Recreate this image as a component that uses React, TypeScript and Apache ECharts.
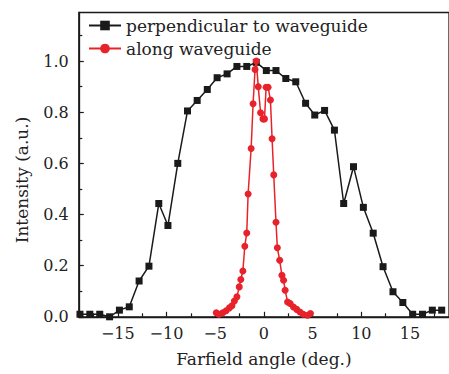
import React, { useEffect, useRef } from "react";
import * as echarts from "echarts";

const perpX = [-18.88, -17.87, -16.85, -15.84, -14.83, -13.82, -12.81, -11.8, -10.79, -9.85, -8.84, -7.84, -6.85, -5.81, -4.8, -3.78, -2.77, -1.76, -0.78, 0.25, 1.24, 2.25, 3.27, 4.28, 5.22, 6.23, 7.24, 8.19, 9.2, 10.21, 11.22, 12.23, 13.25, 14.26, 15.27, 16.28, 17.29, 18.25];
const perpY = [0.01, 0.01, 0.01, 0.0, 0.026, 0.039, 0.14, 0.198, 0.443, 0.357, 0.6, 0.805, 0.846, 0.889, 0.935, 0.95, 0.979, 0.979, 0.995, 0.963, 0.963, 0.932, 0.919, 0.835, 0.789, 0.807, 0.73, 0.443, 0.587, 0.428, 0.327, 0.196, 0.098, 0.056, 0.01, 0.01, 0.026, 0.026];

const alongX = [-4.89, -4.62, -4.22, -3.88, -3.54, -3.28, -3.03, -2.77, -2.53, -2.37, -2.16, -1.96, -1.76, -1.62, -1.31, -1.11, -0.91, -0.78, -0.58, -0.34, -0.1, 0.06, 0.23, 0.43, 0.67, 0.84, 1.01, 1.24, 1.38, 1.62, 1.85, 2.02, 2.18, 2.43, 2.69, 3.03, 3.37, 3.7, 4.04, 4.48, 4.78];
const alongY = [0.016, 0.01, 0.016, 0.024, 0.035, 0.043, 0.062, 0.078, 0.117, 0.146, 0.179, 0.276, 0.328, 0.48, 0.658, 0.833, 0.967, 1.0, 0.9, 0.798, 0.774, 0.774, 0.898, 0.898, 0.848, 0.696, 0.555, 0.37, 0.27, 0.221, 0.162, 0.143, 0.104, 0.058, 0.052, 0.038, 0.029, 0.019, 0.01, 0.006, 0.013];

const xMajorTicks = [-15, -10, -5, 0, 5, 10, 15];
const xMinorTicks = [-17.5, -12.5, -7.5, -2.5, 2.5, 7.5, 12.5, 17.5];
const yMajorTicks = [0, 0.2, 0.4, 0.6, 0.8, 1.0];
const yMinorTicks = [0.1, 0.3, 0.5, 0.7, 0.9, 1.1];

const seriesNames = ["perpendicular to waveguide", "along waveguide"];

const FONT = "DejaVu Serif";
const INK = "#1a1a1a";
const RED = "#e8222a";

export default function App() {
  const ref = useRef<HTMLDivElement>(null);
  useEffect(() => {
    if (!ref.current) return;
    const chart = echarts.init(ref.current, null, { renderer: "svg" });
    const axisLine = { show: true, onZero: false, lineStyle: { color: INK, width: 1.3 } };
    const noLine = { show: false, onZero: false };
    chart.setOption({
      animation: false,
      backgroundColor: "#fff",
      grid: {
        left: 78.8,
        right: -5.6,
        top: 12.5,
        bottom: 57.2,
        show: true,
        borderColor: INK,
        borderWidth: 1.3,
        backgroundColor: "transparent",
      },
      legend: {
        left: 83,
        top: 12,
        orient: "vertical",
        itemWidth: 32,
        itemHeight: 12,
        itemGap: 6,
        data: seriesNames,
        textStyle: { fontFamily: FONT, fontSize: 17, color: "#222" },
      },
      xAxis: [
        {
          type: "value",
          min: -19,
          max: 19,
          position: "bottom",
          axisLine,
          splitLine: { show: false },
          axisTick: { show: true, inside: true, length: 5, lineStyle: { color: INK, width: 1.2 }, customValues: xMajorTicks },
          axisLabel: {
            show: true,
            margin: 9,
            customValues: xMajorTicks,
            fontFamily: FONT,
            fontSize: 16,
            color: "#222",
            formatter: (v: number) => String(v).replace("-", "\u2212"),
          },
          name: "Farfield angle (deg.)",
          nameLocation: "middle",
          nameGap: 34,
          nameTextStyle: { fontFamily: FONT, fontSize: 17, color: "#222" },
        },
        {
          type: "value",
          min: -19,
          max: 19,
          position: "bottom",
          axisLine: noLine,
          splitLine: { show: false },
          axisTick: { show: true, inside: true, length: 3.5, lineStyle: { color: INK, width: 1.2 }, customValues: xMinorTicks },
          axisLabel: { show: false },
        },
      ],
      yAxis: [
        {
          type: "value",
          min: 0,
          max: 1.19,
          position: "left",
          axisLine,
          splitLine: { show: false },
          axisTick: { show: true, inside: true, length: 5, lineStyle: { color: INK, width: 1.2 }, customValues: yMajorTicks },
          axisLabel: {
            show: true,
            margin: 10,
            customValues: yMajorTicks,
            fontFamily: FONT,
            fontSize: 16,
            color: "#222",
            formatter: (v: number) => v.toFixed(1),
          },
        },
        {
          type: "value",
          min: 0,
          max: 1.19,
          position: "left",
          axisLine: noLine,
          splitLine: { show: false },
          axisTick: { show: true, inside: true, length: 3.5, lineStyle: { color: INK, width: 1.2 }, customValues: yMinorTicks },
          axisLabel: { show: false },
        },
      ],
      graphic: [
        {
          type: "text",
          x: 22,
          y: 180,
          rotation: Math.PI / 2,
          style: {
            text: "Intensity (a.u.)",
            fontFamily: FONT,
            fontSize: 17,
            fill: "#222",
            align: "center",
            verticalAlign: "middle",
            textAlign: "center",
            textVerticalAlign: "middle",
          },
        },
      ],
      series: [
        {
          name: seriesNames[0],
          type: "line",
          data: perpX.map((x, i) => [x, perpY[i]]),
          symbol: "rect",
          symbolSize: 7,
          itemStyle: { color: INK },
          lineStyle: { color: INK, width: 1.5 },
          z: 2,
        },
        {
          name: seriesNames[1],
          type: "line",
          data: alongX.map((x, i) => [x, alongY[i]]),
          symbol: "circle",
          symbolSize: 7,
          itemStyle: { color: RED },
          lineStyle: { color: RED, width: 1.5 },
          z: 3,
        },
      ],
    });
    return () => chart.dispose();
  }, []);
  return (
    <div
      ref={ref}
      style={{ position: "fixed", left: 0, top: 0, width: 449, height: 374, background: "#fff" }}
    />
  );
}
